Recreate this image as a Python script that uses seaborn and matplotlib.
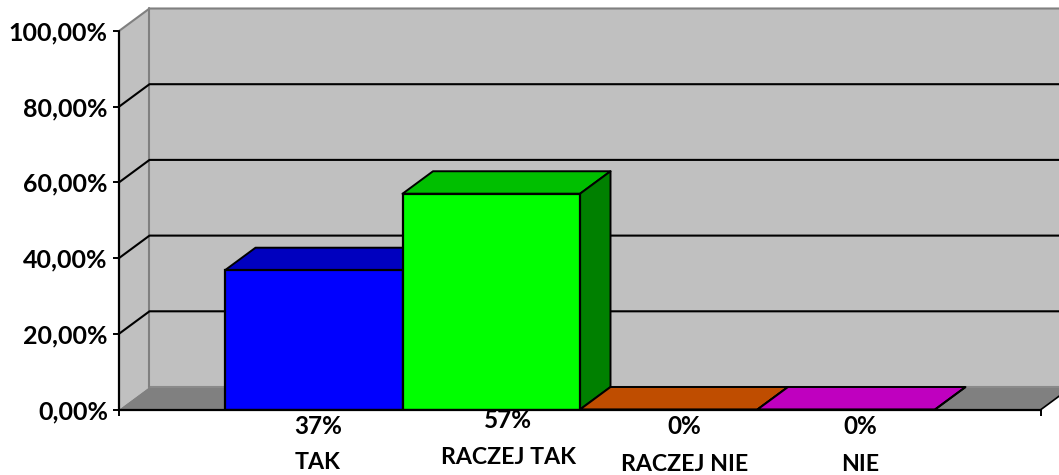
import matplotlib
matplotlib.use("Agg")
import matplotlib.pyplot as plt
import pandas as pd
import seaborn as sns
from matplotlib.patches import Polygon

categories = ["TAK", "RACZEJ TAK", "RACZEJ NIE", "NIE"]
values = [36.8, 57, 0, 0]
value_labels = ["37%", "57%", "0%", "0%"]
y_ticks = [0, 20, 40, 60, 80, 100]
y_tick_labels = ["0,00%", "20,00%", "40,00%", "60,00%", "80,00%", "100,00%"]

front_colors = ["#0000FF", "#00FF00", "#FF6600", "#FF00FF"]
top_colors = ["#0000BF", "#00BF00", "#BF4D00", "#BF00BF"]
side_colors = ["#000080", "#008000", "#803300", "#800080"]

W, H = 1059, 475
X_LEFT, X_RIGHT, Y_ZERO, Y_TOP = 119, 1041, 409.5, 31
BAR_PX = 177.5
FIRST_BAR_PX = 225

sns.set_style("white")
plt.rcParams["font.family"] = ["Lato", "DejaVu Sans"]
plt.rcParams["text.color"] = "black"
plt.rcParams["xtick.labelcolor"] = "black"
plt.rcParams["ytick.labelcolor"] = "black"

fig = plt.figure(figsize=(W / 100, H / 100), dpi=100)
ax = fig.add_axes([X_LEFT / W, 1 - Y_ZERO / H, (X_RIGHT - X_LEFT) / W, (Y_ZERO - Y_TOP) / H])

df = pd.DataFrame({"cat": categories, "val": values})
sns.barplot(data=df, x="cat", y="val", hue="cat", palette=front_colors, width=1,
            saturation=1, edgecolor="black", linewidth=1.6, legend=False, ax=ax, zorder=5)

xmin = -0.5 - (FIRST_BAR_PX - X_LEFT) / BAR_PX
xmax = xmin + (X_RIGHT - X_LEFT) / BAR_PX
ax.set_xlim(xmin, xmax)
ax.set_ylim(0, 100)

# 3d depth offset, in data units
dx = 30.5 / BAR_PX
dy = 22.5 / ((Y_ZERO - Y_TOP) / 100)


def poly(pts, fc, ec="none", lw=0, z=1):
    ax.add_patch(Polygon(pts, closed=True, facecolor=fc, edgecolor=ec, linewidth=lw,
                         clip_on=False, zorder=z, joinstyle="round"))


# walls and floor
back_right = xmax + dx
poly([(xmin + dx, dy), (back_right, dy), (back_right, 100 + dy), (xmin + dx, 100 + dy)], "#C0C0C0", z=1)
poly([(xmin, 0), (xmin + dx, dy), (xmin + dx, 100 + dy), (xmin, 100)], "#C0C0C0", z=1)
poly([(xmin, 0), (xmax, 0), (back_right, dy), (xmin + dx, dy)], "#808080", z=1)

ax.plot([xmin + dx, back_right], [dy, dy], color="#8A8A8A", lw=1.5, clip_on=False, zorder=2)
ax.plot([xmin + dx, xmin + dx], [dy, 100 + dy], color="#808080", lw=1.5, clip_on=False, zorder=2)
ax.plot([xmin, xmin + dx, back_right], [100, 100 + dy, 100 + dy], color="#808080", lw=1.5,
        clip_on=False, zorder=2)

# gridlines on the walls
for t in y_ticks[1:-1]:
    ax.plot([xmin, xmin + dx, back_right], [t, t + dy, t + dy], color="black", lw=1.5,
            clip_on=False, zorder=3)

# bar tops and sides
for i, bar in enumerate(ax.patches[:len(categories)]):
    x0, x1, h = bar.get_x(), bar.get_x() + bar.get_width(), bar.get_height()
    z = 5 + i
    bar.set_zorder(z + 0.5)
    poly([(x0, h), (x1, h), (x1 + dx, h + dy), (x0 + dx, h + dy)], top_colors[i], "black", 1.4, z)
    poly([(x1, 0), (x1 + dx, dy), (x1 + dx, h + dy), (x1, h)], side_colors[i], "black", 1.4, z)

# axis lines and ticks
ax.plot([xmin, xmin], [0, 100], color="black", lw=1.6, clip_on=False, zorder=20)
ax.plot([xmin, xmax], [0, 0], color="black", lw=1.6, clip_on=False, zorder=20)
ax.plot([xmax, xmax + dx], [0, dy], color="black", lw=1.2, clip_on=False, zorder=4)
sns.despine(ax=ax, left=True, bottom=True, top=True, right=True)
ax.set_yticks(y_ticks, y_tick_labels, fontsize=18, fontweight="bold")
ax.set_xticks([xmin, xmax], ["", ""])
ax.tick_params(axis="both", length=4, width=1.4, color="black", left=True, bottom=True, pad=4)
ax.set_xlabel("")
ax.set_ylabel("")

# labels below the bars, a little off the bar centres as in the original
label_dx = [4, 17, 16, 14]
value_dy = [-17, -11, -17, -17]
name_dy = [-53, -48, -55, -55]
for i, cat in enumerate(categories):
    ax.annotate(value_labels[i], (i, 0), xytext=(label_dx[i] * 0.72, value_dy[i] * 0.72),
                textcoords="offset points", ha="center", va="center", fontsize=17.5, fontweight="bold",
                annotation_clip=False, zorder=1 if i == 1 else 30)
    ax.annotate(cat, (i, 0), xytext=(label_dx[i] * 0.72, name_dy[i] * 0.72),
                textcoords="offset points", ha="center", va="center", fontsize=16.7, fontweight="bold",
                annotation_clip=False, zorder=30)

fig.savefig("out.png", dpi=100)
